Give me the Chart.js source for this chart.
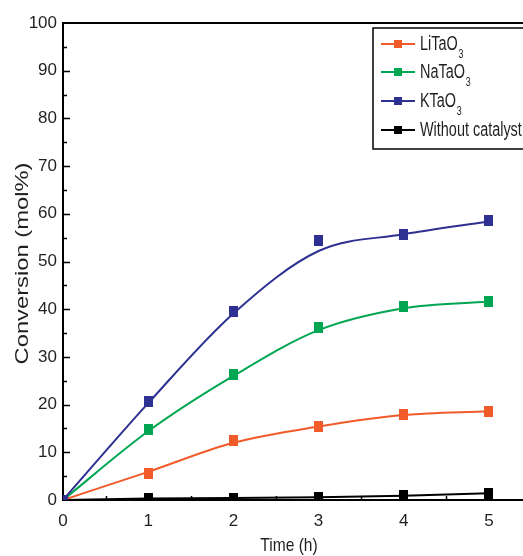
<!DOCTYPE html>
<html lang="en">
<head>
    <meta charset="UTF-8">
    <title>Conversion vs Time</title>
    <script src="https://cdn.jsdelivr.net/npm/chart.js"></script>
    <style>
        body { margin: 0; background: #fff; }
        #wrap { width: 523px; height: 556px; }
    </style>
</head>
<body>
    <div id="wrap"><canvas id="convChart" width="523" height="556"></canvas></div>
    <script>
        // measured points
        const hours = [0, 1, 2, 3, 4, 5];
        const liTaO3 = [0, 5.6, 12.5, 15.5, 18.0, 18.6];
        const naTaO3 = [0, 14.7, 26.3, 36.2, 40.5, 41.6];
        const kTaO3 = [0, 20.6, 39.5, 54.3, 55.7, 58.5];
        const noCatalyst = [0, 0.3, 0.4, 0.6, 0.9, 1.4];

        // fitted curves
        const liFit = [0, 5.9, 12.0, 15.4, 17.8, 18.6];
        const naFit = [0, 14.4, 26.0, 35.6, 40.2, 41.6];
        const kFit = [0, 20.3, 39.1, 52.2, 55.7, 58.4];

        const xTickLabels = ['0', '1', '2', '3', '4', '5'];
        const yTickLabels = ['0', '10', '20', '30', '40', '50', '60', '70', '80', '90', '100'];

        const seriesNames = ['LiTaO', 'NaTaO', 'KTaO', 'Without catalyst'];
        const seriesSub = ['3', '3', '3', ''];
        const colors = ['#F15A29', '#00A651', '#2E3192', '#000000'];

        const FONT = '"Liberation Sans", Arial, sans-serif';

        const pts = arr => hours.map((h, i) => ({ x: h, y: arr[i] }));

        // markers in the picture are a little taller than wide
        function box(color) {
            const c = document.createElement('canvas');
            c.width = 9; c.height = 11;
            const g = c.getContext('2d');
            g.fillStyle = color;
            g.fillRect(0, 0, 9, 11);
            return c;
        }

        function markers(arr, color, order) {
            return {
                type: 'scatter', data: pts(arr), showLine: false,
                pointStyle: box(color), pointRadius: 6, pointHoverRadius: 6,
                backgroundColor: color, borderColor: color, borderWidth: 0, order: order
            };
        }
        function curve(arr, color, order) {
            return {
                type: 'line', data: pts(arr), borderColor: color, borderWidth: 2,
                pointRadius: 0, cubicInterpolationMode: 'monotone', fill: false, order: order
            };
        }

        const axes = {
            id: 'axes',
            beforeDatasetsDraw(chart) {
                const { ctx, chartArea: a, scales: { x, y } } = chart;
                ctx.save();
                ctx.strokeStyle = '#000';
                ctx.lineWidth = 2;
                ctx.beginPath();
                ctx.moveTo(a.left, a.top); ctx.lineTo(a.right, a.top);
                ctx.moveTo(a.left, a.top - 1); ctx.lineTo(a.left, a.bottom + 1);
                ctx.moveTo(a.left - 1, a.bottom); ctx.lineTo(a.right, a.bottom);
                ctx.stroke();
                ctx.lineWidth = 1.5;
                ctx.beginPath();
                for (let v = 5; v < 100; v += 5) {
                    const py = Math.round(y.getPixelForValue(v)) + 0.5;
                    ctx.moveTo(a.left, py); ctx.lineTo(a.left + (v % 10 ? 4 : 7), py);
                }
                for (let v = 0.5; v <= 5; v += 0.5) {
                    const px = Math.round(x.getPixelForValue(v)) + 0.5;
                    ctx.moveTo(px, a.bottom); ctx.lineTo(px, a.bottom - (v % 1 ? 4 : 7));
                }
                ctx.stroke();
                ctx.restore();
            },
            afterDraw(chart) {
                const { ctx, chartArea: a } = chart;
                ctx.save();
                ctx.fillStyle = '#231F20';
                // y title
                ctx.font = '19px ' + FONT;
                ctx.textAlign = 'center';
                ctx.textBaseline = 'middle';
                ctx.translate(23, (a.top + a.bottom) / 2 + 2);
                ctx.rotate(-Math.PI / 2);
                ctx.scale(1.25, 1);
                ctx.fillText('Conversion (mol%)', 0, 0);
                ctx.restore();

                ctx.save();
                ctx.fillStyle = '#231F20';
                ctx.font = '19px ' + FONT;
                ctx.textAlign = 'center';
                ctx.textBaseline = 'middle';
                ctx.translate(289, 546);
                ctx.scale(0.82, 1);
                ctx.fillText('Time (h)', 0, 0);
                ctx.restore();

                // legend
                ctx.save();
                ctx.strokeStyle = '#000';
                ctx.lineWidth = 1.5;
                ctx.strokeRect(373, 28, 200, 121);
                const rows = [44, 72, 101, 130];
                seriesNames.forEach((name, i) => {
                    const ry = rows[i];
                    ctx.strokeStyle = colors[i];
                    ctx.lineWidth = 2;
                    ctx.beginPath();
                    ctx.moveTo(381, ry); ctx.lineTo(415, ry);
                    ctx.stroke();
                    ctx.fillStyle = colors[i];
                    ctx.fillRect(394, ry - 4, 8, 8);
                    ctx.fillStyle = '#231F20';
                    ctx.textBaseline = 'middle';
                    ctx.textAlign = 'left';
                    ctx.save();
                    ctx.translate(420, ry + 1);
                    ctx.scale(0.74, 1);
                    ctx.font = '19.5px ' + FONT;
                    ctx.fillText(name, 0, 0);
                    const w = ctx.measureText(name).width;
                    if (seriesSub[i]) {
                        ctx.font = '12px ' + FONT;
                        ctx.fillText(seriesSub[i], w + 1, 10);
                    }
                    ctx.restore();
                });
                ctx.restore();
            }
        };

        const ctx = document.getElementById('convChart').getContext('2d');
        new Chart(ctx, {
            data: {
                datasets: [
                    markers(kTaO3, colors[2], 0),
                    markers(naTaO3, colors[1], 1),
                    markers(liTaO3, colors[0], 2),
                    curve(kFit, colors[2], 3),
                    curve(naFit, colors[1], 4),
                    curve(liFit, colors[0], 5),
                    markers(noCatalyst, colors[3], 6),
                    {
                        type: 'line', data: pts(noCatalyst), borderColor: colors[3], borderWidth: 2,
                        pointRadius: 0, tension: 0, fill: false, order: 7
                    }
                ]
            },
            options: {
                responsive: false,
                animation: false,
                layout: { autoPadding: false, padding: { top: 23, right: 0, left: 0, bottom: 0 } },
                plugins: { legend: { display: false }, tooltip: { enabled: false } },
                scales: {
                    x: {
                        type: 'linear', min: 0, max: 5.4,
                        grid: { display: false, drawTicks: false },
                        border: { display: false },
                        afterFit: s => { s.height = 56; s.paddingLeft = 0; s.paddingRight = 0; },
                        ticks: {
                            stepSize: 1, includeBounds: false, padding: 11,
                            color: '#231F20', font: { family: FONT, size: 17 },
                            callback: v => xTickLabels[hours.indexOf(v)] ?? ''
                        }
                    },
                    y: {
                        type: 'linear', min: 0, max: 100,
                        grid: { display: false, drawTicks: false },
                        border: { display: false },
                        afterFit: s => { s.width = 63; s.paddingTop = 0; s.paddingBottom = 0; },
                        ticks: {
                            stepSize: 10, padding: 6,
                            color: '#231F20', font: { family: FONT, size: 17 },
                            callback: v => yTickLabels[v / 10] ?? ''
                        }
                    }
                }
            },
            plugins: [axes]
        });
    </script>
</body>
</html>
